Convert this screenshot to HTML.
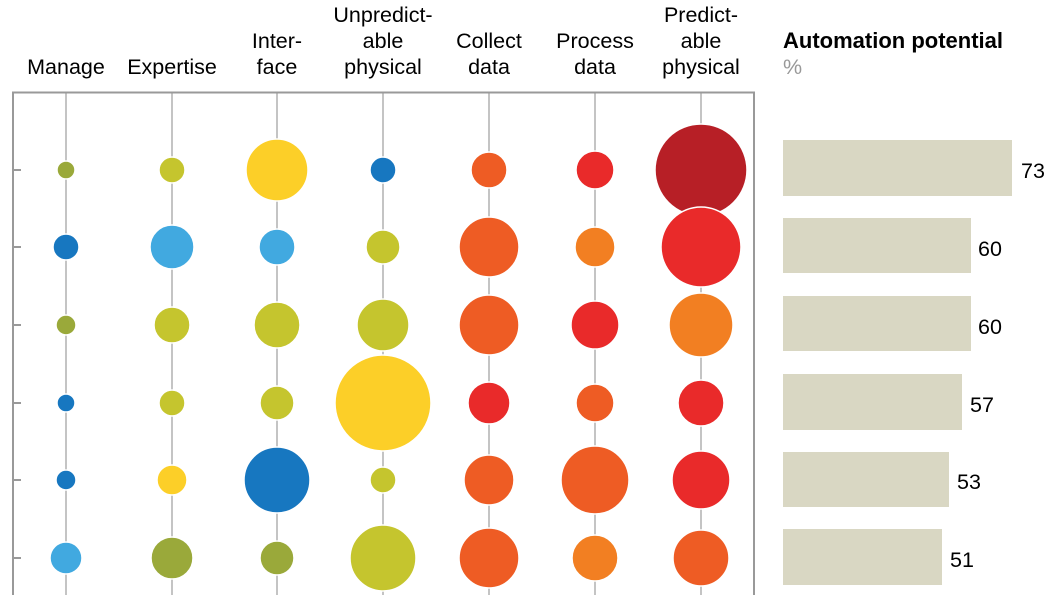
<!DOCTYPE html>
<html><head><meta charset="utf-8"><style>body{margin:0;background:#fff}svg{display:block}</style></head><body>
<svg width="1057" height="595" viewBox="0 0 1057 595" font-family="Liberation Sans, Arial, sans-serif">
<g font-size="21.5" fill="#000" text-anchor="middle">
<text x="66" y="74">Manage</text>
<text x="172" y="74">Expertise</text>
<text x="277" y="48">Inter-</text><text x="277" y="74">face</text>
<text x="383" y="22">Unpredict-</text><text x="383" y="48">able</text><text x="383" y="74">physical</text>
<text x="489" y="48">Collect</text><text x="489" y="74">data</text>
<text x="595" y="48">Process</text><text x="595" y="74">data</text>
<text x="701" y="22">Predict-</text><text x="701" y="48">able</text><text x="701" y="74">physical</text>
</g>
<text x="783" y="48" font-size="22" font-weight="bold">Automation potential</text>
<text x="783" y="74" font-size="21.5" fill="#999">%</text>
<g stroke="#c4c4c4" stroke-width="2">
<line x1="66" y1="93" x2="66" y2="595"/><line x1="172" y1="93" x2="172" y2="595"/><line x1="277" y1="93" x2="277" y2="595"/><line x1="383" y1="93" x2="383" y2="595"/><line x1="489" y1="93" x2="489" y2="595"/><line x1="595" y1="93" x2="595" y2="595"/><line x1="701" y1="93" x2="701" y2="595"/>
</g>
<path d="M13 595V92.5H754V595" fill="none" stroke="#999" stroke-width="2"/>
<g stroke="#999" stroke-width="2">
<line x1="13" y1="170" x2="21" y2="170"/><line x1="13" y1="247" x2="21" y2="247"/><line x1="13" y1="325" x2="21" y2="325"/><line x1="13" y1="403" x2="21" y2="403"/><line x1="13" y1="480" x2="21" y2="480"/><line x1="13" y1="558" x2="21" y2="558"/>
</g>
<g stroke="#fff" stroke-width="1.5">
<circle cx="66" cy="170" r="9" fill="#9aa93a"/><circle cx="172" cy="170" r="13" fill="#c5c52e"/><circle cx="277" cy="170" r="31" fill="#fccf28"/><circle cx="383" cy="170" r="13" fill="#1777c0"/><circle cx="489" cy="170" r="18" fill="#ee5c24"/><circle cx="595" cy="170" r="19" fill="#e92a2a"/><circle cx="701" cy="170" r="46" fill="#b71f26"/>
<circle cx="66" cy="247" r="13" fill="#1777c0"/><circle cx="172" cy="247" r="22" fill="#41a9e0"/><circle cx="277" cy="247" r="18" fill="#41a9e0"/><circle cx="383" cy="247" r="17" fill="#c5c52e"/><circle cx="489" cy="247" r="30" fill="#ee5c24"/><circle cx="595" cy="247" r="20" fill="#f27f22"/><circle cx="701" cy="247" r="40" fill="#e92a2a"/>
<circle cx="66" cy="325" r="10" fill="#9aa93a"/><circle cx="172" cy="325" r="18" fill="#c5c52e"/><circle cx="277" cy="325" r="23" fill="#c5c52e"/><circle cx="383" cy="325" r="26" fill="#c5c52e"/><circle cx="489" cy="325" r="30" fill="#ee5c24"/><circle cx="595" cy="325" r="24" fill="#e92a2a"/><circle cx="701" cy="325" r="32" fill="#f27f22"/>
<circle cx="66" cy="403" r="9" fill="#1777c0"/><circle cx="172" cy="403" r="13" fill="#c5c52e"/><circle cx="277" cy="403" r="17" fill="#c5c52e"/><circle cx="383" cy="403" r="48" fill="#fccf28"/><circle cx="489" cy="403" r="21" fill="#e92a2a"/><circle cx="595" cy="403" r="19" fill="#ee5c24"/><circle cx="701" cy="403" r="23" fill="#e92a2a"/>
<circle cx="66" cy="480" r="10" fill="#1777c0"/><circle cx="172" cy="480" r="15" fill="#fccf28"/><circle cx="277" cy="480" r="33" fill="#1777c0"/><circle cx="383" cy="480" r="13" fill="#c5c52e"/><circle cx="489" cy="480" r="25" fill="#ee5c24"/><circle cx="595" cy="480" r="34" fill="#ee5c24"/><circle cx="701" cy="480" r="29" fill="#e92a2a"/>
<circle cx="66" cy="558" r="16" fill="#41a9e0"/><circle cx="172" cy="558" r="21" fill="#9aa93a"/><circle cx="277" cy="558" r="17" fill="#9aa93a"/><circle cx="383" cy="558" r="33" fill="#c5c52e"/><circle cx="489" cy="558" r="30" fill="#ee5c24"/><circle cx="595" cy="558" r="23" fill="#f27f22"/><circle cx="701" cy="558" r="28" fill="#ee5c24"/>
</g>
<g fill="#d9d7c3">
<rect x="783" y="140" width="229" height="56"/><rect x="783" y="218" width="188" height="55"/><rect x="783" y="296" width="188" height="55"/><rect x="783" y="374" width="179" height="56"/><rect x="783" y="452" width="166" height="55"/><rect x="783" y="529" width="159" height="56"/>
</g>
<g font-size="21.5" fill="#000">
<text x="1021" y="178">73</text><text x="978" y="256">60</text><text x="978" y="334">60</text><text x="970" y="412">57</text><text x="957" y="489">53</text><text x="950" y="567">51</text>
</g>
</svg>
</body></html>
